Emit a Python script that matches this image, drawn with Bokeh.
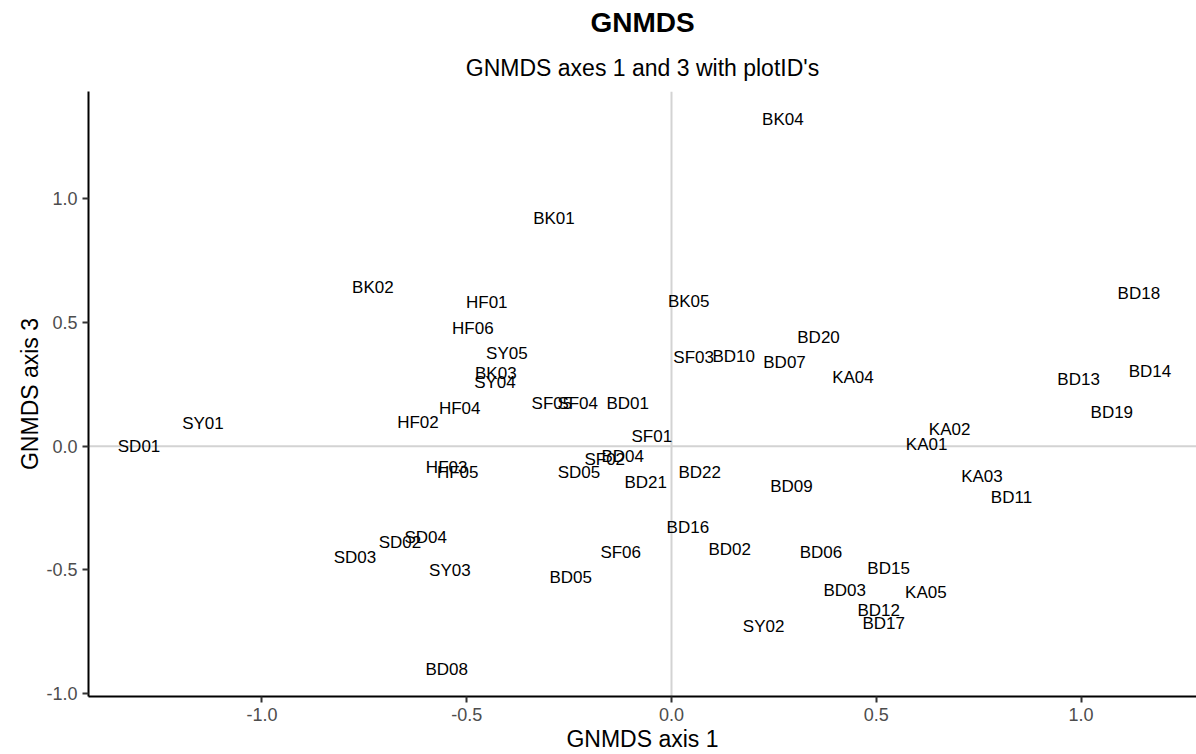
from bokeh.plotting import figure
from bokeh.models import (ColumnDataSource, Range1d, FixedTicker, PrintfTickFormatter,
                          Span, Title)
from bokeh.core.properties import value
from bokeh.embed import file_html
from bokeh.resources import INLINE

# GNMDS site scores (axis 1, axis 3) with plot identifiers
plot_ids = [
    "BK04", "BK01", "BK02", "HF01", "BK05", "BD18", "HF06", "BD20", "SY05", "SF03",
    "BD10", "BD07", "BK03", "SY04", "KA04", "BD14", "BD13", "HF04", "SF05", "SF04",
    "BD01", "BD19", "HF02", "SY01", "KA02", "SF01", "SD01", "KA01", "BD04", "SF02",
    "HF03", "HF05", "SD05", "BD22", "BD21", "KA03", "BD09", "BD11", "BD16", "SD04",
    "SD02", "BD02", "BD06", "SF06", "SD03", "BD15", "BD05", "SY03", "BD03", "KA05",
    "BD12", "BD17", "SY02", "BD08",
]
gnmds1 = [
    0.272, -0.287, -0.729, -0.451, 0.042, 1.141, -0.485, 0.359, -0.402, 0.054,
    0.152, 0.276, -0.429, -0.431, 0.443, 1.168, 0.994, -0.517, -0.292, -0.229,
    -0.107, 1.075, -0.619, -1.144, 0.679, -0.048, -1.300, 0.623, -0.119, -0.163,
    -0.549, -0.522, -0.226, 0.069, -0.063, 0.758, 0.293, 0.830, 0.040, -0.600,
    -0.663, 0.142, 0.365, -0.124, -0.773, 0.530, -0.246, -0.541, 0.423, 0.621,
    0.506, 0.518, 0.225, -0.549,
]
gnmds3 = [
    1.321, 0.918, 0.640, 0.579, 0.583, 0.615, 0.475, 0.438, 0.374, 0.358,
    0.362, 0.338, 0.293, 0.257, 0.277, 0.301, 0.269, 0.152, 0.172, 0.172,
    0.172, 0.136, 0.096, 0.093, 0.067, 0.039, -0.001, 0.007, -0.042, -0.054,
    -0.086, -0.106, -0.106, -0.106, -0.146, -0.122, -0.163, -0.207, -0.327, -0.368,
    -0.388, -0.416, -0.428, -0.428, -0.449, -0.493, -0.529, -0.501, -0.582, -0.590,
    -0.662, -0.715, -0.727, -0.900,
]
axis_ticks = [-1.0, -0.5, 0.0, 0.5, 1.0]

source = ColumnDataSource(data=dict(x=gnmds1, y=gnmds3, label=plot_ids))

# 5 % padding around the data, as in the usual ordination plot
ypad = 0.05 * (max(gnmds3) - min(gnmds3))
xpad = 0.05 * (max(gnmds1) - min(gnmds1))

FONT = "Liberation Sans"

p = figure(
    width=1196, height=754,
    x_range=Range1d(min(gnmds1) - xpad, 1.2818),
    y_range=Range1d(min(gnmds3) - ypad, max(gnmds3) + ypad),
    output_backend="svg", toolbar_location=None, title=None,
    min_border_left=88, min_border_right=0, min_border_top=90, min_border_bottom=58,
)
p.outline_line_color = None
p.background_fill_color = "white"
p.border_fill_color = "white"
p.xgrid.visible = False
p.ygrid.visible = False

# title and subtitle
p.add_layout(Title(text="GNMDS axes 1 and 3 with plotID's", align="center",
                   text_font=FONT, text_font_size="23px", text_font_style="normal",
                   text_color="black", standoff=21), "above")
p.add_layout(Title(text="GNMDS", align="center", text_font=FONT,
                   text_font_size="28px", text_font_style="bold",
                   text_color="black", standoff=9), "above")

# zero reference lines, drawn beneath the labels
p.add_layout(Span(location=0, dimension="width", line_color="#D3D3D3",
                  line_width=2, level="underlay"))
p.add_layout(Span(location=0, dimension="height", line_color="#D3D3D3",
                  line_width=2, level="underlay"))

# plot ID labels
p.text(x="x", y="y", text="label", source=source,
       text_align="center", text_baseline="middle",
       text_font=value(FONT), text_font_size="17px", text_color="black")

for ax in (p.xaxis[0], p.yaxis[0]):
    ax.ticker = FixedTicker(ticks=axis_ticks)
    ax.formatter = PrintfTickFormatter(format="%.1f")
    ax.axis_line_color = "black"
    ax.axis_line_width = 2
    ax.major_tick_line_color = "#333333"
    ax.major_tick_line_width = 2
    ax.major_tick_out = 6
    ax.major_tick_in = 0
    ax.minor_tick_line_color = None
    ax.major_label_text_font = FONT
    ax.major_label_text_font_size = "18px"
    ax.major_label_text_color = "#4D4D4D"
    ax.axis_label_text_font = FONT
    ax.axis_label_text_font_size = "23px"
    ax.axis_label_text_font_style = "normal"
    ax.axis_label_text_color = "black"

p.xaxis.axis_label = "GNMDS axis 1"
p.yaxis.axis_label = "GNMDS axis 3"
p.xaxis.major_label_standoff = 5
p.xaxis.axis_label_standoff = 2
p.yaxis.major_label_standoff = 5
p.yaxis.axis_label_standoff = 0

open("out.html", "w").write(file_html(p, INLINE))
